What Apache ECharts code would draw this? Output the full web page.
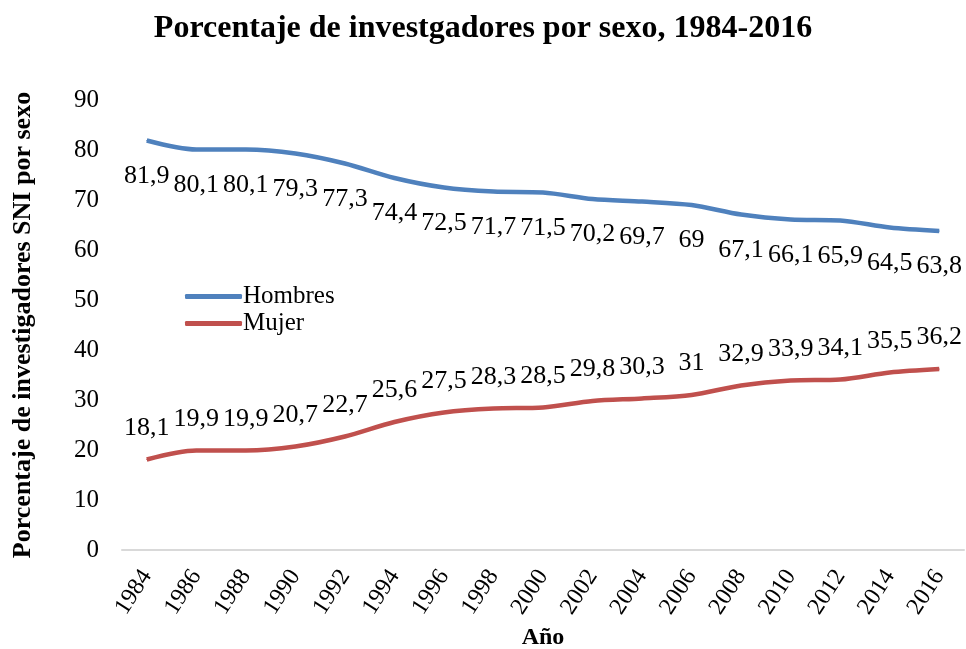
<!DOCTYPE html>
<html>
<head>
<meta charset="utf-8">
<script src="https://cdn.jsdelivr.net/npm/echarts@6/dist/echarts.min.js"></script>
<style>
html, body { margin: 0; padding: 0; background: #fff; }
#chart { width: 966px; height: 649px; }
</style>
</head>
<body>
<div id="chart"></div>
<script>
// datos
var years = ["1984", "1986", "1988", "1990", "1992", "1994", "1996", "1998", "2000",
  "2002", "2004", "2006", "2008", "2010", "2012", "2014", "2016"];
var hombres = [81.9, 80.1, 80.1, 79.3, 77.3, 74.4, 72.5, 71.7, 71.5, 70.2, 69.7, 69, 67.1, 66.1, 65.9, 64.5, 63.8];
var mujer = [18.1, 19.9, 19.9, 20.7, 22.7, 25.6, 27.5, 28.3, 28.5, 29.8, 30.3, 31, 32.9, 33.9, 34.1, 35.5, 36.2];

var font = "'Liberation Serif', 'Times New Roman', serif";
var coma = function (p) { return String(p.value).replace(".", ","); };

var chart = echarts.init(document.getElementById("chart"));
var option = {
  title: {
    text: "Porcentaje de investgadores por sexo, 1984-2016",
    left: "center",
    top: 8,
    textStyle: { fontFamily: font, fontSize: 32, fontWeight: "bold", color: "#000" }
  },
  legend: {
    orient: "vertical",
    left: 180,
    top: 279,
    itemGap: 2,
    itemWidth: 57,
    itemHeight: 5,
    icon: "roundRect",
    textStyle: { fontFamily: font, fontSize: 25, color: "#000", padding: [0, 0, 0, -4] },
    data: ["Hombres", "Mujer"]
  },
  grid: { left: 122, right: 2, top: 100, bottom: 99, outerBoundsMode: "none" },
  xAxis: {
    type: "category",
    data: years,
    name: "Año",
    nameLocation: "middle",
    nameGap: 76,
    nameTextStyle: { fontFamily: font, fontSize: 24, fontWeight: "bold", color: "#000" },
    axisLine: { lineStyle: { color: "#d9d9d9", width: 2 } },
    axisTick: { show: false },
    axisLabel: { interval: 0, rotate: 57, margin: 22, fontFamily: font, fontSize: 24, color: "#000" }
  },
  yAxis: {
    type: "value",
    min: 0,
    max: 90,
    interval: 10,
    name: "Porcentaje de investigadores SNI por sexo",
    nameLocation: "middle",
    nameGap: 86,
    nameTextStyle: { fontFamily: font, fontSize: 26, fontWeight: "bold", color: "#000" },
    axisLine: { show: false },
    axisTick: { show: false },
    splitLine: { show: false },
    axisLabel: { margin: 23, fontFamily: font, fontSize: 25, color: "#000" }
  },
  series: [
    {
      name: "Hombres",
      type: "line",
      data: hombres,
      smooth: 0.3,
      symbol: "circle",
      symbolSize: 1,
      showAllSymbol: true,
      lineStyle: { color: "#4f81bd", width: 4.5 },
      itemStyle: { color: "#4f81bd" },
      label: {
        show: true, position: "bottom", distance: 22,
        formatter: coma, fontFamily: font, fontSize: 26, color: "#000"
      }
    },
    {
      name: "Mujer",
      type: "line",
      data: mujer,
      smooth: 0.3,
      symbol: "circle",
      symbolSize: 1,
      showAllSymbol: true,
      lineStyle: { color: "#c0504d", width: 4.5 },
      itemStyle: { color: "#c0504d" },
      label: {
        show: true, position: "top", distance: 18,
        formatter: coma, fontFamily: font, fontSize: 26, color: "#000"
      }
    }
  ]
};
chart.setOption(option);
</script>
</body>
</html>
